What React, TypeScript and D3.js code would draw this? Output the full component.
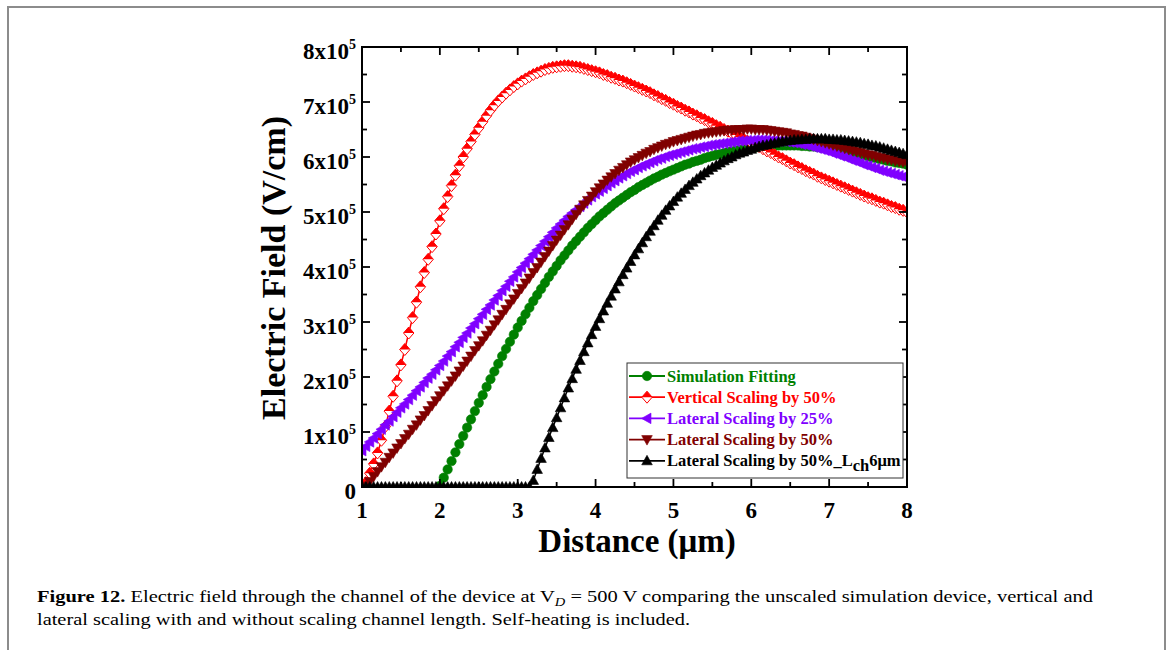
import React from "react";
import * as d3 from "d3";

// Electric field values in units of 1e5 V/cm, sampled every 0.05 µm
const STEP = 0.05;

const X_TICKS = [1, 2, 3, 4, 5, 6, 7, 8];
const Y_TICKS = [0, 1, 2, 3, 4, 5, 6, 7, 8];

const SIM_START = 2.0;
const SIM_FITTING = [
  0.02, 0.17, 0.32, 0.47, 0.63, 0.78, 0.93, 1.08, 1.23, 1.38, 1.53, 1.67, 1.82, 1.96, 2.1, 2.24, 2.38, 2.51, 2.64, 2.77,
  2.9, 3.02, 3.14, 3.26, 3.38, 3.49, 3.6, 3.71, 3.82, 3.92, 4.02, 4.12, 4.21, 4.3, 4.39, 4.47, 4.55, 4.63, 4.71, 4.78,
  4.85, 4.92, 4.98, 5.04, 5.1, 5.16, 5.21, 5.26, 5.31, 5.36, 5.4, 5.45, 5.49, 5.53, 5.57, 5.61, 5.64, 5.68, 5.71, 5.74,
  5.77, 5.8, 5.83, 5.86, 5.88, 5.91, 5.93, 5.95, 5.98, 6.0, 6.02, 6.04, 6.05, 6.07, 6.09, 6.1, 6.12, 6.13, 6.14, 6.15,
  6.16, 6.17, 6.18, 6.19, 6.19, 6.2, 6.2, 6.21, 6.21, 6.21, 6.21, 6.21, 6.21, 6.2, 6.2, 6.19, 6.19, 6.18, 6.17, 6.16,
  6.15, 6.14, 6.13, 6.12, 6.1, 6.09, 6.07, 6.06, 6.04, 6.03, 6.01, 5.99, 5.98, 5.96, 5.95, 5.93, 5.92, 5.9, 5.89, 5.88,
  5.86,
];

const VERT50_START = 1.05;
const VERTICAL_50 = [
  0.08, 0.25, 0.42, 0.62, 0.85, 1.1, 1.38, 1.65, 1.93, 2.22, 2.5, 2.8, 3.08, 3.36, 3.64, 3.9, 4.14, 4.37, 4.6,
  4.84, 5.06, 5.28, 5.48, 5.67, 5.84, 6.0, 6.15, 6.28, 6.41, 6.53, 6.64, 6.75, 6.85, 6.94, 7.02, 7.09, 7.16, 7.22, 7.28,
  7.33, 7.38, 7.42, 7.46, 7.5, 7.53, 7.56, 7.59, 7.61, 7.63, 7.64, 7.65, 7.66, 7.66, 7.65, 7.64, 7.63, 7.61, 7.59, 7.57,
  7.55, 7.53, 7.5, 7.48, 7.45, 7.43, 7.4, 7.38, 7.35, 7.32, 7.29, 7.26, 7.23, 7.2, 7.17, 7.13, 7.1, 7.06, 7.03, 6.99,
  6.96, 6.92, 6.89, 6.85, 6.82, 6.78, 6.75, 6.71, 6.68, 6.64, 6.61, 6.57, 6.54, 6.5, 6.47, 6.43, 6.4, 6.36, 6.33, 6.29,
  6.26, 6.22, 6.19, 6.15, 6.11, 6.08, 6.04, 6.0, 5.97, 5.93, 5.89, 5.86, 5.82, 5.79, 5.75, 5.72, 5.69, 5.65, 5.62, 5.59,
  5.56, 5.53, 5.5, 5.47, 5.44, 5.41, 5.38, 5.35, 5.32, 5.29, 5.26, 5.24, 5.21, 5.18, 5.16, 5.13, 5.1, 5.08, 5.05, 5.03,
  5.0,
];

const LAT25_START = 1.0;
const LATERAL_25 = [
  0.66, 0.74, 0.82, 0.89, 0.97, 1.05, 1.13, 1.2, 1.28, 1.36, 1.44, 1.51, 1.59, 1.67, 1.75, 1.82, 1.9, 1.98, 2.05, 2.13,
  2.21, 2.29, 2.38, 2.46, 2.55, 2.63, 2.72, 2.8, 2.89, 2.97, 3.06, 3.14, 3.23, 3.31, 3.4, 3.48, 3.57, 3.65, 3.74, 3.82,
  3.91, 3.99, 4.07, 4.15, 4.23, 4.31, 4.39, 4.47, 4.55, 4.63, 4.71, 4.78, 4.85, 4.92, 4.98, 5.04, 5.1, 5.16, 5.22, 5.28,
  5.33, 5.38, 5.43, 5.48, 5.53, 5.57, 5.62, 5.66, 5.7, 5.74, 5.77, 5.81, 5.84, 5.87, 5.9, 5.93, 5.96, 5.98, 6.01, 6.03,
  6.05, 6.07, 6.09, 6.11, 6.13, 6.15, 6.16, 6.18, 6.19, 6.21, 6.22, 6.23, 6.24, 6.25, 6.26, 6.27, 6.28, 6.29, 6.29, 6.3,
  6.3, 6.31, 6.31, 6.31, 6.31, 6.3, 6.3, 6.29, 6.29, 6.28, 6.27, 6.26, 6.25, 6.23, 6.22, 6.2, 6.18, 6.16, 6.14, 6.12,
  6.1, 6.07, 6.05, 6.02, 6.0, 5.97, 5.94, 5.92, 5.89, 5.86, 5.84, 5.81, 5.79, 5.76, 5.74, 5.72, 5.7, 5.68, 5.66, 5.64,
  5.62,
];

const LAT50_START = 1.05;
const LATERAL_50 = [
  0.02, 0.1, 0.19, 0.28, 0.37, 0.45, 0.54, 0.62, 0.71, 0.79, 0.88, 0.96, 1.05, 1.13, 1.22, 1.3, 1.39, 1.48, 1.57,
  1.66, 1.75, 1.84, 1.93, 2.02, 2.11, 2.2, 2.29, 2.38, 2.48, 2.57, 2.66, 2.76, 2.85, 2.95, 3.04, 3.14, 3.23, 3.33, 3.42,
  3.52, 3.61, 3.71, 3.8, 3.9, 3.99, 4.09, 4.19, 4.29, 4.39, 4.49, 4.58, 4.68, 4.77, 4.87, 4.96, 5.05, 5.13, 5.21, 5.29,
  5.37, 5.44, 5.51, 5.58, 5.64, 5.7, 5.76, 5.81, 5.86, 5.91, 5.95, 5.99, 6.03, 6.07, 6.1, 6.14, 6.17, 6.2, 6.23, 6.25,
  6.28, 6.3, 6.32, 6.34, 6.36, 6.38, 6.4, 6.41, 6.43, 6.44, 6.45, 6.46, 6.47, 6.48, 6.49, 6.49, 6.5, 6.5, 6.5, 6.51,
  6.51, 6.5, 6.5, 6.5, 6.49, 6.48, 6.47, 6.46, 6.45, 6.44, 6.42, 6.41, 6.39, 6.38, 6.36, 6.34, 6.32, 6.3, 6.28, 6.26,
  6.24, 6.22, 6.2, 6.18, 6.16, 6.14, 6.12, 6.1, 6.08, 6.06, 6.04, 6.03, 6.01, 5.99, 5.98, 5.96, 5.95, 5.93, 5.92, 5.91,
  5.9,
];

const LCH6_START = 1.0;
const LATERAL_50_LCH6 = [
  0, 0, 0, 0, 0, 0, 0, 0, 0, 0, 0, 0, 0, 0, 0, 0, 0, 0, 0, 0,
  0, 0, 0, 0, 0, 0, 0, 0, 0, 0, 0, 0, 0, 0, 0, 0, 0, 0, 0, 0,
  0, 0, 0, 0, 0.12, 0.32, 0.52, 0.71, 0.9, 1.08, 1.26, 1.44, 1.62, 1.8, 1.97, 2.14, 2.3, 2.46, 2.62, 2.77,
  2.92, 3.06, 3.2, 3.34, 3.47, 3.6, 3.73, 3.86, 3.98, 4.1, 4.22, 4.33, 4.44, 4.55, 4.65, 4.75, 4.85, 4.94, 5.03, 5.11,
  5.19, 5.27, 5.34, 5.41, 5.48, 5.54, 5.6, 5.66, 5.71, 5.76, 5.81, 5.85, 5.89, 5.93, 5.97, 6.0, 6.04, 6.07, 6.09, 6.12,
  6.14, 6.17, 6.19, 6.21, 6.22, 6.24, 6.25, 6.27, 6.28, 6.29, 6.3, 6.31, 6.31, 6.32, 6.32, 6.33, 6.33, 6.33, 6.33, 6.33,
  6.32, 6.32, 6.31, 6.31, 6.3, 6.29, 6.28, 6.27, 6.26, 6.24, 6.23, 6.21, 6.2, 6.18, 6.16, 6.14, 6.12, 6.1, 6.08, 6.06,
  6.04,
];

const SERIES_NAMES = [
  "Simulation Fitting",
  "Vertical Scaling by 50%",
  "Lateral Scaling by 25%",
  "Lateral Scaling by 50%",
  "Lateral Scaling by 50%_L",
];
const SERIES_COLORS = ["#008000", "#ff0000", "#8000ff", "#800000", "#000000"];
const SERIES_MARKERS = ["circle", "diamondHalf", "triLeft", "triDown", "triUp"];
const SERIES_STARTS = [SIM_START, VERT50_START, LAT25_START, LAT50_START, LCH6_START];
const SERIES_VALUES = [SIM_FITTING, VERTICAL_50, LATERAL_25, LATERAL_50, LATERAL_50_LCH6];

const W = 1171;
const H = 650;
const M = { left: 362, right: 907, top: 47, bottom: 487 };
const SERIF = "'Liberation Serif', 'Times New Roman', serif";

function Marker({ type, color, x, y }: { type: string; color: string; x: number; y: number }) {
  const t = `translate(${x},${y})`;
  if (type === "circle") return <circle cx={x} cy={y} r={4.7} fill={color} stroke={color} strokeWidth={0.6} />;
  if (type === "diamondHalf")
    return (
      <g transform={t}>
        <path d="M0,-6 L5.2,0 L0,6 L-5.2,0 Z" fill="#fff" stroke={color} strokeWidth={1} />
        <path d="M0,-6 L5.2,0 L-5.2,0 Z" fill={color} />
      </g>
    );
  if (type === "triLeft")
    return <path transform={t} d="M-5.5,0 L4,-5.3 L4,5.3 Z" fill={color} stroke={color} strokeWidth={0.6} />;
  if (type === "triDown")
    return <path transform={t} d="M0,5.5 L5.3,-4 L-5.3,-4 Z" fill={color} stroke={color} strokeWidth={0.6} />;
  return <path transform={t} d="M0,-5.5 L5.3,4 L-5.3,4 Z" fill={color} stroke={color} strokeWidth={0.6} />;
}

export default function App() {
  const x = d3.scaleLinear().domain([1, 8]).range([M.left, M.right]);
  const y = d3.scaleLinear().domain([0, 8]).range([M.bottom, M.top]);

  const series = SERIES_VALUES.map((vals, s) => ({
    name: SERIES_NAMES[s],
    color: SERIES_COLORS[s],
    marker: SERIES_MARKERS[s],
    pts: vals.map((v, i) => ({ d: +(SERIES_STARTS[s] + i * STEP).toFixed(2), e: v })),
  }));

  const line = d3
    .line<{ d: number; e: number }>()
    .x((p) => x(p.d))
    .y((p) => y(p.e));

  const xMinor = d3.range(1, 8.001, 0.5);
  const yMinor = d3.range(0, 8.001, 0.5);
  const isMajor = (v: number) => Math.abs(v - Math.round(v)) < 1e-6;

  const legX = 627;
  const legY = 363;
  const legW = 276;
  const legH = 115;
  const rowH = 21.2;

  return (
    <svg width={W} height={H} style={{ position: "absolute", left: 0, top: 0, background: "#fff" }}>
      <rect x={8} y={7} width={1157} height={700} fill="#fff" stroke="#8c8c8c" strokeWidth={2} />
      <defs>
        <clipPath id="plotClip">
          <rect x={M.left} y={M.top} width={M.right - M.left} height={M.bottom - M.top} />
        </clipPath>
      </defs>

      <g clipPath="url(#plotClip)">
        {series.map((s) => (
          <g key={s.name}>
            <path d={line(s.pts) || ""} fill="none" stroke={s.color} strokeWidth={1.5} />
            {s.pts.map((p, i) => (
              <Marker key={i} type={s.marker} color={s.color} x={x(p.d)} y={y(p.e)} />
            ))}
          </g>
        ))}
      </g>

      {/* ticks */}
      <g stroke="#000" strokeWidth={1.8}>
        {xMinor.map((v) => {
          const len = isMajor(v) ? 8 : 5;
          return (
            <g key={"xt" + v}>
              <line x1={x(v)} x2={x(v)} y1={M.bottom} y2={M.bottom - len} />
              <line x1={x(v)} x2={x(v)} y1={M.top} y2={M.top + len} />
            </g>
          );
        })}
        {yMinor.map((v) => {
          const len = isMajor(v) ? 8 : 5;
          return (
            <g key={"yt" + v}>
              <line x1={M.left} x2={M.left + len} y1={y(v)} y2={y(v)} />
              <line x1={M.right} x2={M.right - len} y1={y(v)} y2={y(v)} />
            </g>
          );
        })}
      </g>
      <rect
        x={M.left}
        y={M.top}
        width={M.right - M.left}
        height={M.bottom - M.top}
        fill="none"
        stroke="#000"
        strokeWidth={2}
      />

      {/* legend */}
      <rect x={legX} y={legY} width={legW} height={legH} fill="#fff" stroke="#333" strokeWidth={1} />
      {series.map((s, i) => {
        const cy = legY + 13 + i * rowH;
        return (
          <g key={"leg" + i}>
            <line x1={legX + 2} x2={legX + 38} y1={cy} y2={cy} stroke={s.color} strokeWidth={1.8} />
            <Marker type={s.marker} color={s.color} x={legX + 20} y={cy} />
            <text
              x={legX + 40}
              y={cy + 5.5}
              fill={s.color}
              fontFamily={SERIF}
              fontWeight="bold"
              fontSize={16.5}
            >
              {s.name}
              {i === 4 && (
                <>
                  <tspan dy={5}>ch</tspan>
                  <tspan dy={-5}>6μm</tspan>
                </>
              )}
            </text>
          </g>
        );
      })}

      {/* tick labels */}
      {X_TICKS.map((v) => (
        <text
          key={"xl" + v}
          x={x(v)}
          y={518}
          textAnchor="middle"
          fontFamily={SERIF}
          fontWeight="bold"
          fontSize={23}
        >
          {v}
        </text>
      ))}
      {Y_TICKS.map((v) => (
        <text
          key={"yl" + v}
          x={356}
          y={y(v) + 12}
          textAnchor="end"
          fontFamily={SERIF}
          fontWeight="bold"
          fontSize={23}
        >
          {v === 0 ? (
            "0"
          ) : (
            <>
              {`${v}x10`}
              <tspan dy={-10} fontSize={14}>
                5
              </tspan>
            </>
          )}
        </text>
      ))}

      {/* axis titles */}
      <text
        x={637}
        y={552}
        textAnchor="middle"
        fontFamily={SERIF}
        fontWeight="bold"
        fontSize={33}
      >
        Distance (μm)
      </text>
      <text
        transform={`translate(285,268) rotate(-90)`}
        textAnchor="middle"
        fontFamily={SERIF}
        fontWeight="bold"
        fontSize={34}
      >
        Electric Field (V/cm)
      </text>

      {/* caption */}
      <text x={37} y={602} fontFamily={SERIF} fontSize={17} textLength={1056} lengthAdjust="spacingAndGlyphs">
        <tspan fontWeight="bold">Figure 12.</tspan>
        <tspan> Electric field through the channel of the device at V</tspan>
        <tspan fontStyle="italic" fontSize={12} dy={4}>
          D
        </tspan>
        <tspan dy={-4}> = 500  V comparing the unscaled simulation device, vertical and</tspan>
      </text>
      <text x={37} y={625} fontFamily={SERIF} fontSize={17} textLength={653} lengthAdjust="spacingAndGlyphs">
        lateral scaling with and without scaling channel length. Self-heating is included.
      </text>
    </svg>
  );
}
